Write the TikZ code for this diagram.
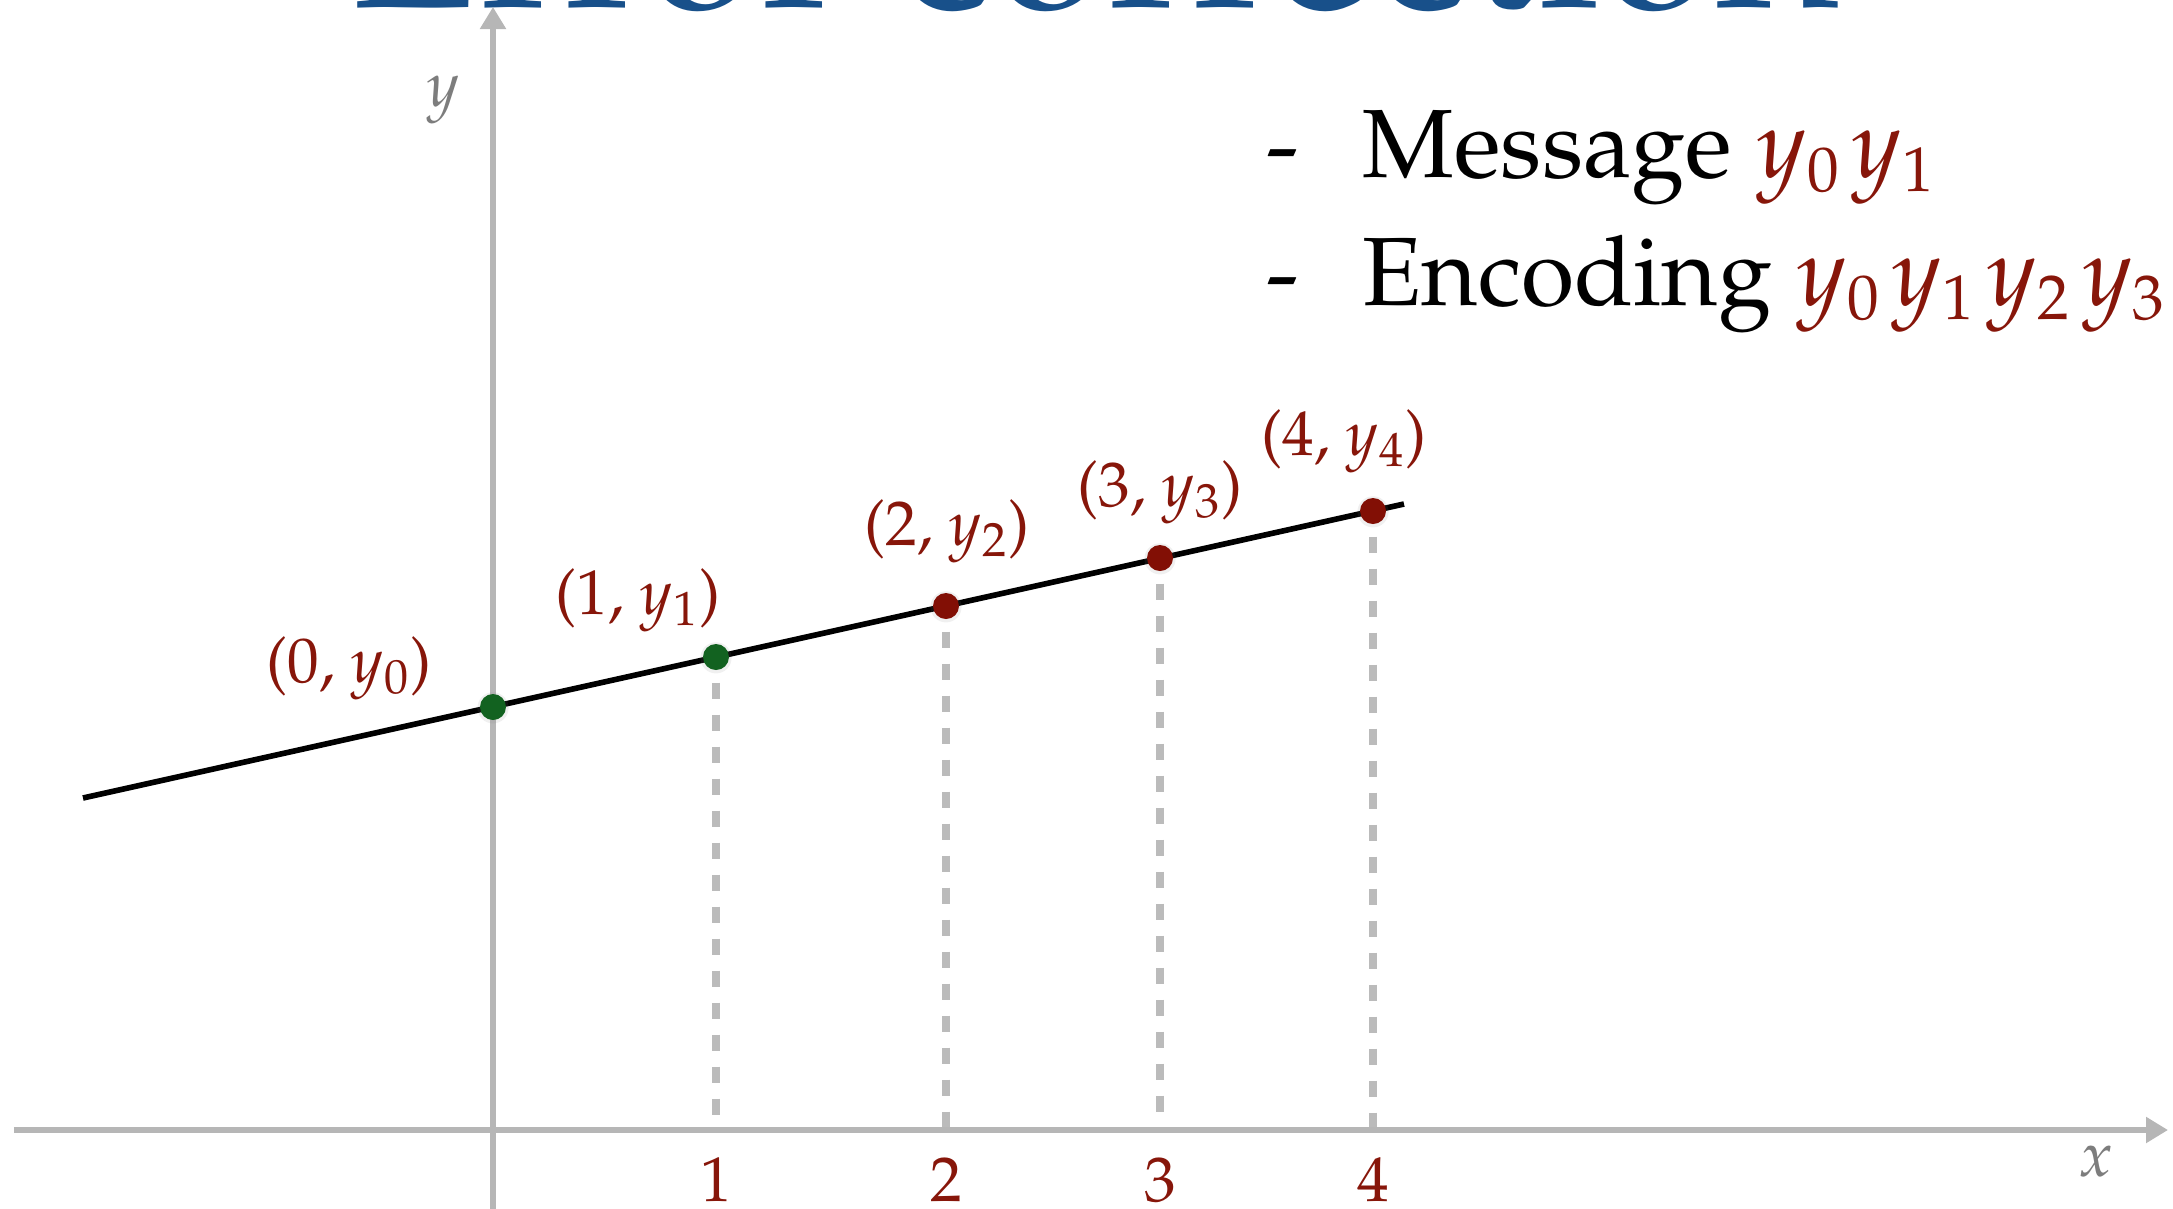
\documentclass[tikz,border=0pt]{standalone}
\usepackage[T1]{fontenc}
\usepackage{mathpazo}
\usepackage{tikz}
\usetikzlibrary{arrows.meta,positioning,shadows}
\DeclareMathSizes{27.6}{27.6}{18}{13}
\definecolor{titleblue}{RGB}{24,80,138}
\definecolor{dotgreen}{RGB}{18,98,32}
\definecolor{dotred}{RGB}{130,15,5}
\definecolor{labelred}{RGB}{135,22,10}
\definecolor{axisgray}{RGB}{182,182,182}
\definecolor{guidegray}{RGB}{187,187,187}
\definecolor{lblgray}{RGB}{125,125,125}
\tikzset{
  axis/.style={draw=axisgray, line width=1.5pt, -{Triangle[length=2.2mm,width=2.5mm]}},
  guide/.style={draw=guidegray, line width=2.2pt, dash pattern=on 1.6mm off 1.6mm},
  fitline/.style={draw=black, line width=1.6pt},
  dot/.style={circle, inner sep=0pt, minimum size=2.6mm,
    drop shadow={shadow xshift=0pt, shadow yshift=-0.2pt, shadow scale=1.2, opacity=0.12}},
  known/.style={dot, fill=dotgreen},
  extra/.style={dot, fill=dotred},
  ptlabel/.style={text=labelred, inner sep=0pt, font=\fontsize{18}{20}\selectfont},
  axislabel/.style={text=lblgray, inner sep=0pt, font=\fontsize{18}{20}\selectfont},
  listtext/.style={anchor=base west, inner sep=0pt, font=\fontsize{27.6}{32}\selectfont}
}

\begin{document}
\begin{tikzpicture}
  \useasboundingbox (-4.93,-0.78) rectangle (16.80,11.30);

  % title, mostly above the page
  \node[anchor=base west, inner sep=0pt, text=titleblue, font=\fontsize{60.5}{62}\selectfont] (title) at (-1.43,11.23) {Error correction};

  % axes
  \coordinate (xstart) at (-4.79,0);
  \coordinate (xend) at (16.75,0);
  \coordinate (ystart) at (0,-0.80);
  \coordinate (yend) at (0,11.23);
  \draw[axis] (xstart) -- (xend);
  \draw[axis] (ystart) -- (yend);
  \node[axislabel] (xlbl) at (16.03,-0.31) {$x$};
  \node[axislabel] (ylbl) at (-0.50,10.30) {$y$};

  % line through the points
  \coordinate (lstart) at (-4.10,3.32);
  \coordinate (lend) at (9.11,6.26);
  \draw[fitline] (lstart) -- (lend);

  \node[known] (p0) at (0,4.23) {};
  \node[known] (p1) at (2.23,4.73) {};
  \node[extra] (p2) at (4.53,5.24) {};
  \node[extra] (p3) at (6.67,5.72) {};
  \node[extra] (p4) at (8.80,6.19) {};

  \foreach \i/\x in {1/2.23,2/4.53,3/6.67,4/8.80} {
    \coordinate (t\i) at (\x,0.03);
    \draw[guide] ([yshift=-1.2mm]p\i.south) -- (t\i);
    \node[ptlabel] (n\i) at (\x,-0.50) {\i};
  }

  \node[ptlabel] (l0) at (-1.44,4.62) {(0, $y_0$)};
  \node[ptlabel] (l1) at (1.45,5.30) {(1, $y_1$)};
  \node[ptlabel] (l2) at (4.54,5.99) {(2, $y_2$)};
  \node[ptlabel] (l3) at (6.67,6.38) {(3, $y_3$)};
  \node[ptlabel] (l4) at (8.51,6.89) {(4, $y_4$)};

  % message and encoding
  \node[listtext] (d1) at (7.73,9.53) {-};
  \node[listtext] (msg) at (8.69,9.53) {Message \textcolor{labelred}{$y_0\mkern2mu y_1$}};
  \node[listtext] (d2) at (7.73,8.25) {-};
  \node[listtext] (enc) at (8.69,8.25) {Encoding \textcolor{labelred}{$y_0\mkern2mu y_1\mkern2mu y_2\mkern2mu y_3$}};
\end{tikzpicture}
\end{document}
